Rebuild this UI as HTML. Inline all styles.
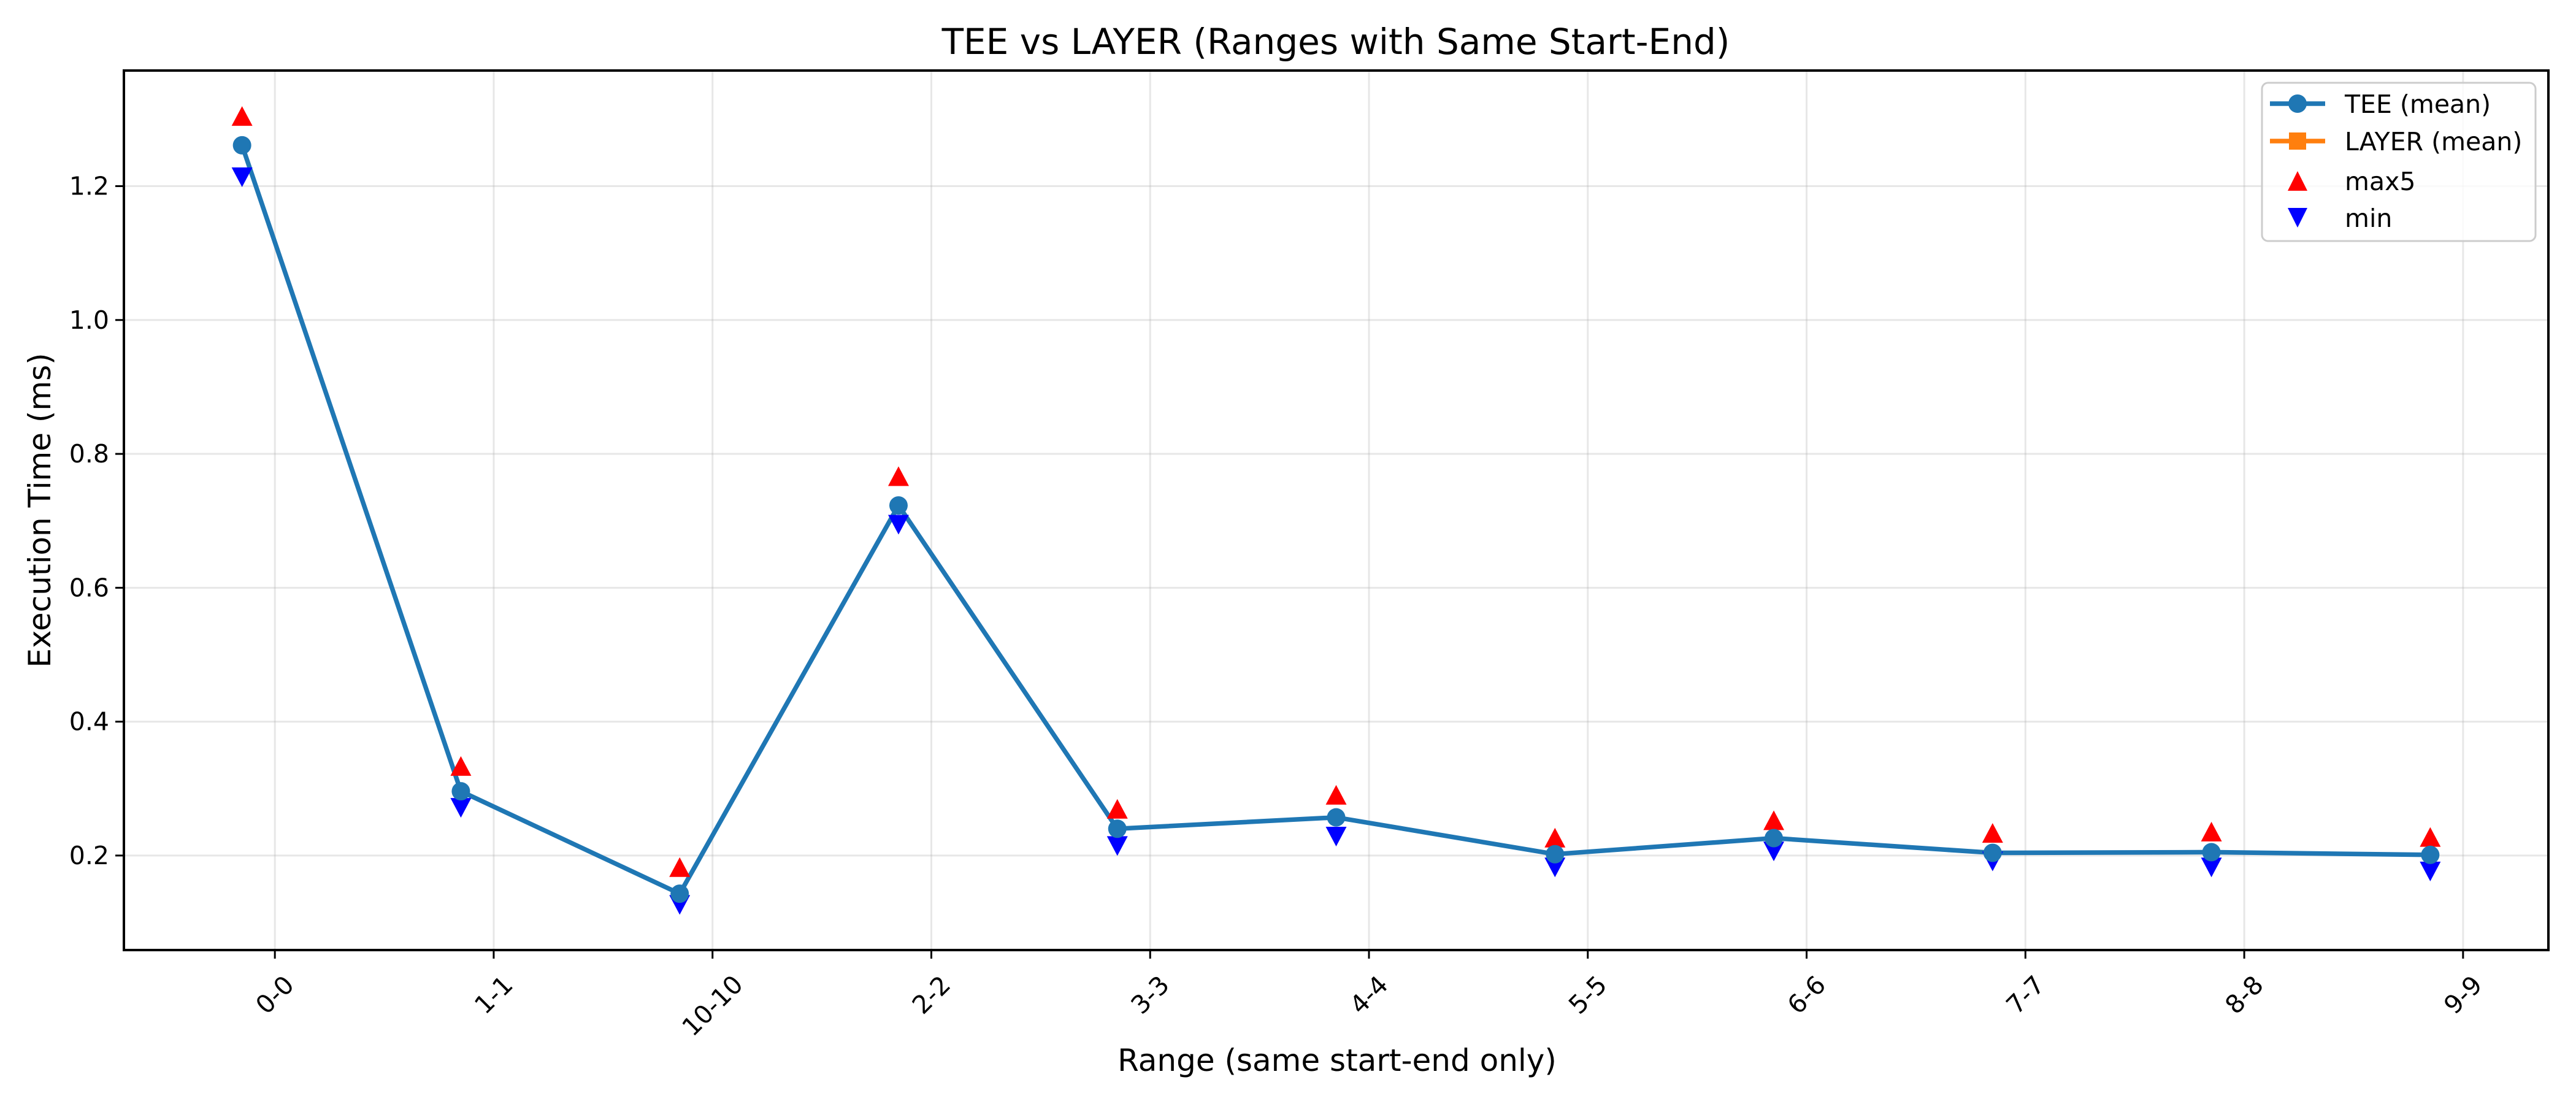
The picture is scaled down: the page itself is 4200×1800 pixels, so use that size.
<!DOCTYPE html>
<html><head><meta charset="utf-8"><style>
html,body{margin:0;padding:0;background:#fff;}
svg{display:block;font-family:"DejaVu Sans","Liberation Sans",sans-serif;}
</style></head><body>
<svg id="chart" width="4200" height="1800" viewBox="0 0 4200 1800" xmlns="http://www.w3.org/2000/svg">
<rect width="4200" height="1800" fill="#fff"/>
<g id="grid"></g>
<g id="series"></g>
<rect x="202" y="115" width="3953" height="1434" fill="none" stroke="#000" stroke-width="4"/>
<g id="ticks"></g>
<text x="2178" y="88" font-size="58" text-anchor="middle">TEE vs LAYER (Ranges with Same Start-End)</text>
<text x="2180" y="1746" font-size="50" text-anchor="middle">Range (same start-end only)</text>
<text x="0" y="0" font-size="50" text-anchor="middle" transform="translate(82,832) rotate(-90)">Execution Time (ms)</text>
<g>
<rect x="3688" y="135" width="446" height="258" rx="10" fill="#fff" fill-opacity="0.8" stroke="#cccccc" stroke-width="3"/>
<g>
<line x1="3701" y1="169" x2="3791" y2="169" stroke="#1f77b4" stroke-width="7.5"/>
<circle cx="3746" cy="169" r="15" fill="#1f77b4"/>
<text x="3823" y="184" font-size="41">TEE (mean)</text></g>
<g>
<line x1="3701" y1="230" x2="3791" y2="230" stroke="#ff7f0e" stroke-width="7.5"/>
<rect x="3732" y="216" width="28" height="28" fill="#ff7f0e"/>
<text x="3823" y="245" font-size="41">LAYER (mean)</text></g>
<g>
<polygon points="3746,279 3762,311 3730,311" fill="#ff0000"/>
<text x="3823" y="310" font-size="41">max5</text></g>
<g>
<polygon points="3730,339 3762,339 3746,371" fill="#0000ff"/>
<text x="3823" y="370" font-size="41">min</text></g>
</g>
</svg>
<script>
const categories = ["0-0","1-1","10-10","2-2","3-3","4-4","5-5","6-6","7-7","8-8","9-9"];
const teeMean = [1.261,0.296,0.143,0.723,0.240,0.257,0.202,0.226,0.204,0.205,0.201];
const max5 = [1.302,0.331,0.180,0.764,0.267,0.288,0.224,0.250,0.231,0.233,0.225];
const minVals = [1.216,0.274,0.129,0.697,0.217,0.231,0.185,0.209,0.194,0.185,0.179];
const yTicks = [0.2,0.4,0.6,0.8,1.0,1.2];
const yTickLabels = ["0.2","0.4","0.6","0.8","1.0","1.2"];

const NS="http://www.w3.org/2000/svg";
const L=202,R=4155,T=115,B=1549;
const xMin=-0.69,xMax=10.39,yMin=0.0588,yMax=1.3727;
function xs(i){return L+(i-xMin)/(xMax-xMin)*(R-L);}
function ys(v){return B-(v-yMin)/(yMax-yMin)*(B-T);}
function mk(tag,attrs,parent){const e=document.createElementNS(NS,tag);for(const k in attrs)e.setAttribute(k,attrs[k]);parent.appendChild(e);return e;}
const grid=document.getElementById('grid'),ticks=document.getElementById('ticks'),ser=document.getElementById('series');

categories.forEach((c,i)=>{
  const x=xs(i);
  const g=mk('line',{x1:x,y1:T,x2:x,y2:B,stroke:'#b0b0b0','stroke-opacity':0.3,'stroke-width':3},grid);
  
  
  const t=mk('line',{x1:x,y1:B,x2:x,y2:B+14,stroke:'#000','stroke-width':3},ticks);
  
  
  const w=c.length*25, h=(w+30)*0.707;
  const lbl=mk('text',{x:0,y:0,'font-size':41,'text-anchor':'middle','dominant-baseline':'central',transform:`translate(${x},${1585+h/2}) rotate(-45)`},ticks);
  lbl.textContent=c;
  
  
});
yTicks.forEach((v,k)=>{
  const y=ys(v);
  const g=mk('line',{x1:L,y1:y,x2:R,y2:y,stroke:'#b0b0b0','stroke-opacity':0.3,'stroke-width':3},grid);
  
  
  const t=mk('line',{x1:L-14,y1:y,x2:L,y2:y,stroke:'#000','stroke-width':3},ticks);
  
  
  const lbl=mk('text',{x:L-24,y:y+14,'font-size':41,'text-anchor':'end'},ticks);
  lbl.textContent=yTickLabels[k];
  
  
});
const off=-0.15;
const pts=teeMean.map((v,i)=>xs(i+off)+','+ys(v)).join(' ');
const line=mk('polyline',{points:pts,fill:'none',stroke:'#1f77b4','stroke-width':7.5,'stroke-linejoin':'round'},ser);


max5.forEach((v,i)=>{
  const x=xs(i+off),y=ys(v);
  const p=mk('polygon',{points:`${x},${y-19} ${x+17},${y+13} ${x-17},${y+13}`,fill:'#ff0000'},ser);
  
  
});
minVals.forEach((v,i)=>{
  const x=xs(i+off),y=ys(v);
  const p=mk('polygon',{points:`${x-17},${y-13} ${x+17},${y-13} ${x},${y+19}`,fill:'#0000ff'},ser);
  
  
});
teeMean.forEach((v,i)=>{
  const c=mk('circle',{cx:xs(i+off),cy:ys(v),r:15,fill:'#1f77b4'},ser);
  
  
});
</script>
</body></html>
